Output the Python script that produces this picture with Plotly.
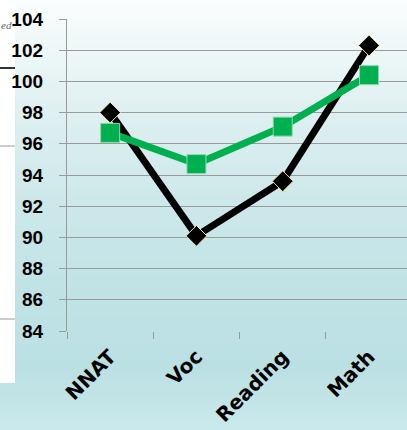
import plotly.graph_objects as go

categories = ["NNAT", "Voc", "Reading", "Math"]
series_black = [98.0, 90.1, 93.6, 102.3]
series_green = [96.7, 94.7, 97.1, 100.4]
y_ticks = [84, 86, 88, 90, 92, 94, 96, 98, 100, 102, 104]

W, H = 407, 430
L, R, T, B = 67, 0, 19, 99
PW, PH = W - L - R, H - T - B

def px_x(x):
    return (x - L) / PW

def px_y(y):
    return (H - B - y) / PH

# background gradient stops (pixel y, rgb)
stops = [(0, (250, 253, 253)), (100, (226, 241, 242)), (200, (205, 232, 234)),
         (300, (191, 226, 229)), (370, (187, 224, 227)), (430, (203, 233, 236))]

def col_at(y):
    for (y0, c0), (y1, c1) in zip(stops[:-1], stops[1:]):
        if y0 <= y <= y1:
            t = (y - y0) / (y1 - y0)
            return "rgb(%d,%d,%d)" % tuple(round(a + (b - a) * t) for a, b in zip(c0, c1))
    return "rgb(%d,%d,%d)" % stops[-1][1]

shapes = []
step = 5
for y in range(0, H, step):
    shapes.append(dict(type="rect", xref="paper", yref="paper", layer="below",
                       x0=px_x(0), x1=px_x(W), y0=px_y(y + step), y1=px_y(y),
                       fillcolor=col_at(y + step / 2), line=dict(width=0)))
# left white panel
shapes.append(dict(type="rect", xref="paper", yref="paper", layer="below",
                   x0=px_x(0), x1=px_x(15), y0=px_y(383), y1=px_y(0),
                   fillcolor="white", line=dict(width=0)))
shapes.append(dict(type="line", xref="paper", yref="paper", layer="below",
                   x0=px_x(0), x1=px_x(15), y0=px_y(68), y1=px_y(68),
                   line=dict(color="#333333", width=2)))
for yy in (146, 319):
    shapes.append(dict(type="line", xref="paper", yref="paper", layer="below",
                       x0=px_x(0), x1=px_x(15), y0=px_y(yy), y1=px_y(yy),
                       line=dict(color="#9a9a9a", width=1)))

fig = go.Figure()
fig.add_trace(go.Scatter(
    x=categories, y=series_black, mode="lines+markers",
    line=dict(color="black", width=7),
    marker=dict(symbol="diamond", size=16, color="black",
                line=dict(color="#f3e8a8", width=1)),
    showlegend=False))
fig.add_trace(go.Scatter(
    x=categories, y=series_green, mode="lines+markers",
    line=dict(color="#00b050", width=7),
    marker=dict(symbol="square", size=19, color="#00b050",
                line=dict(color="#8fd8ac", width=1)),
    showlegend=False))

fig.update_layout(
    width=W, height=H,
    margin=dict(l=L, r=R, t=T, b=B, pad=0),
    paper_bgcolor="rgba(0,0,0,0)", plot_bgcolor="rgba(0,0,0,0)",
    shapes=shapes,
    annotations=[dict(text="<i>ed</i>", xref="paper", yref="paper",
                      x=px_x(0), y=px_y(25), xanchor="left", yanchor="middle",
                      showarrow=False, borderpad=0,
                      font=dict(family="Liberation Serif", size=11, color="#666666"))],
    xaxis=dict(type="category", range=[-0.5, 3.44], showgrid=False,
               tickson="boundaries", ticks="outside", ticklen=7, tickcolor="#999999",
               tickwidth=1.3, showline=False, zeroline=False,
               tickangle=-45, ticklabelstandoff=9,
               tickfont=dict(family="DejaVu Sans", size=20, color="black", weight="bold")),
    yaxis=dict(range=[84, 104], tickvals=y_ticks, showgrid=True,
               gridcolor="#9a9a9a", gridwidth=1.3, zeroline=False,
               showline=True, linecolor="#999999", linewidth=1.3,
               ticks="outside", ticklen=7, tickcolor="#9a9a9a", tickwidth=1.3,
               ticklabelstandoff=12,
               tickfont=dict(family="Liberation Sans", size=19, color="black", weight="bold")),
)

fig.write_html("out.html")
